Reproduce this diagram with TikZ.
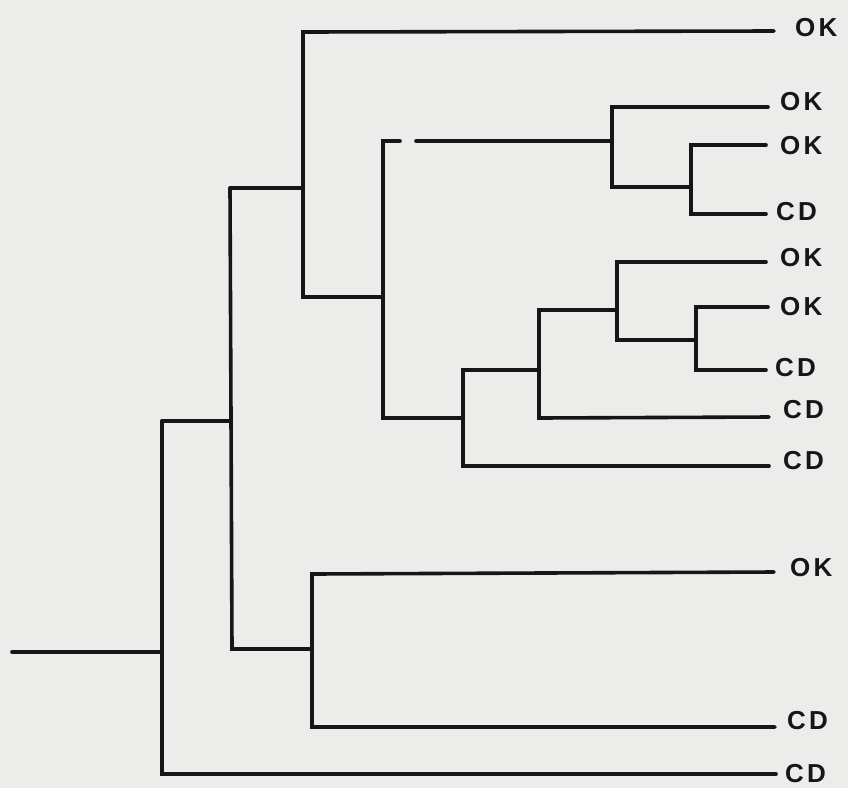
\documentclass[tikz,border=0pt]{standalone}
\usepackage{fontspec}
\newfontfamily\lblfont[LetterSpace=12]{Liberation Sans}
\definecolor{paper}{RGB}{236,236,234}
\definecolor{ink}{RGB}{22,22,22}
\begin{document}
\begin{tikzpicture}[x=1pt,y=-1pt,
  branch/.style={draw=ink,line width=3.6pt,line cap=round,line join=miter},
  lbl/.style={anchor=west,inner sep=0pt,text=ink,font=\lblfont\bfseries\fontsize{26}{27}\selectfont}]
\fill[paper] (0,0) rectangle (848,788);
\useasboundingbox (0,0) rectangle (848,788);
% junction coordinates
\coordinate (r0) at (12,652);
\coordinate (a) at (162,652);
\coordinate (at) at (162,421);
\coordinate (ab) at (162,774);
\coordinate (bt) at (230,188);
\coordinate (bm) at (231,421);
\coordinate (bb) at (232,649);
\coordinate (ct) at (303,32);
\coordinate (cm) at (303,188);
\coordinate (cb) at (303,297);
\coordinate (dt) at (383,141);
\coordinate (dm) at (383,297);
\coordinate (db) at (383,418);
\coordinate (dgap1) at (400,141);
\coordinate (dgap2) at (416,141);
\coordinate (et) at (612,107);
\coordinate (em) at (612,141);
\coordinate (eb) at (612,187);
\coordinate (ft) at (691,145);
\coordinate (fm) at (691,187);
\coordinate (fb) at (691,214);
\coordinate (gt) at (463,370);
\coordinate (gm) at (463,418);
\coordinate (gb) at (463,466);
\coordinate (ht) at (539,310);
\coordinate (hm) at (539,370);
\coordinate (hb) at (539,418);
\coordinate (it) at (617,262);
\coordinate (im) at (617,310);
\coordinate (ib) at (617,340);
\coordinate (jt) at (696,307);
\coordinate (jm) at (696,340);
\coordinate (jb) at (696,370);
\coordinate (kt) at (312,574);
\coordinate (km) at (312,649);
\coordinate (kb) at (312,727);
% leaf ends
\coordinate (e1) at (774,31);
\coordinate (e2) at (768,107);
\coordinate (e3) at (766,145);
\coordinate (e4) at (766,214);
\coordinate (e5) at (766,262);
\coordinate (e6) at (768,307);
\coordinate (e7) at (766,370);
\coordinate (e8) at (769,417);
\coordinate (e9) at (769,466);
\coordinate (e10) at (774,572);
\coordinate (e11) at (775,727);
\coordinate (e12) at (776,774);
% labels
\node[lbl] (t1) at (795,28) {OK};
\node[lbl] (t2) at (780,102) {OK};
\node[lbl] (t3) at (780,146) {OK};
\node[lbl] (t4) at (776,212) {CD};
\node[lbl] (t5) at (780,258) {OK};
\node[lbl] (t6) at (780,307) {OK};
\node[lbl] (t7) at (775,368) {CD};
\node[lbl] (t8) at (783,410) {CD};
\node[lbl] (t9) at (783,461) {CD};
\node[lbl] (t10) at (790,568) {OK};
\node[lbl] (t11) at (787,721) {CD};
\node[lbl] (t12) at (785,774) {CD};
% branches
\draw[branch] (r0) -- (a);
\draw[branch] (at) -- (ab) -- (e12);
\draw[branch] (at) -- (bm);
\draw[branch] (bt) -- (bb) -- (km);
\draw[branch] (bt) -- (cm);
\draw[branch] (e1) -- (ct) -- (cb) -- (dm);
\draw[branch] (dgap1) -- (dt) -- (db) -- (gm);
\draw[branch] (dgap2) -- (em);
\draw[branch] (e2) -- (et) -- (eb) -- (fm);
\draw[branch] (e3) -- (ft) -- (fb) -- (e4);
\draw[branch] (e9) -- (gb) -- (gt) -- (hm);
\draw[branch] (e8) -- (hb) -- (ht) -- (im);
\draw[branch] (e5) -- (it) -- (ib) -- (jm);
\draw[branch] (e6) -- (jt) -- (jb) -- (e7);
\draw[branch] (e10) -- (kt) -- (kb) -- (e11);
\end{tikzpicture}
\end{document}
